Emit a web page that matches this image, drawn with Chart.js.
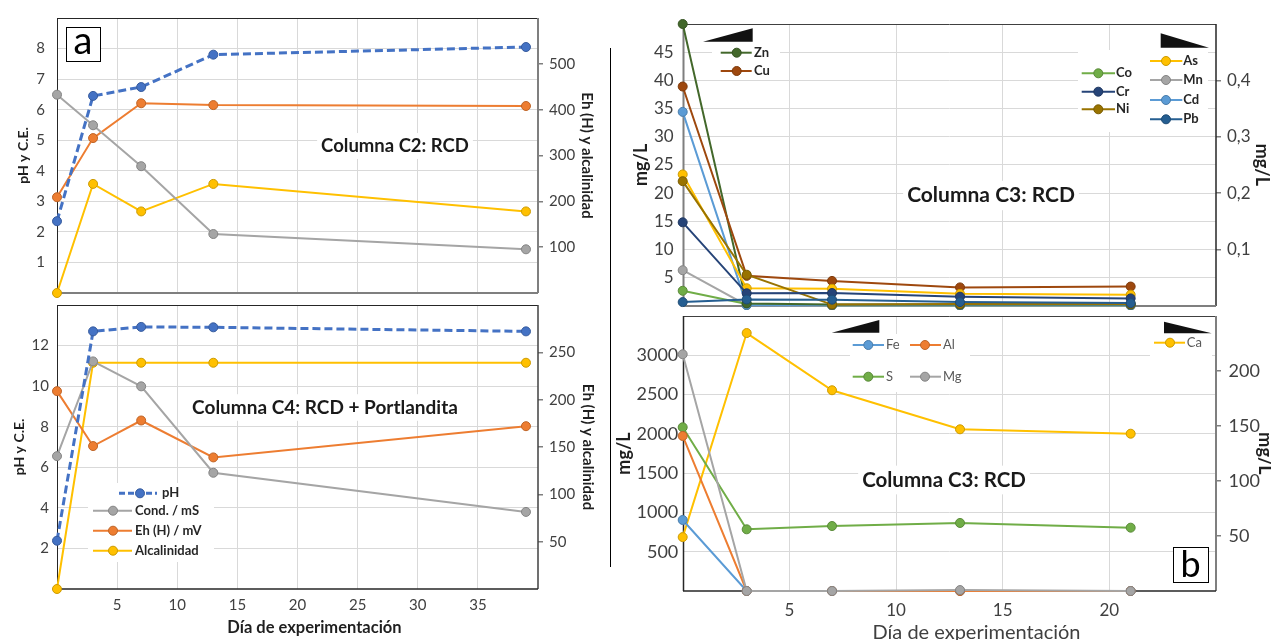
<!DOCTYPE html>
<html>
<head>
<meta charset="utf-8">
<script src="https://cdn.jsdelivr.net/npm/chart.js@4.4.1/dist/chart.umd.min.js"></script>
<style>
  body { margin: 0; background: #fff; width: 1271px; height: 640px; overflow: hidden; position: relative; }
  canvas { position: absolute; }
  #sep { position: absolute; left: 610px; top: 48px; width: 1px; height: 519px; background: #000; }
</style>
</head>
<body>
<canvas id="c2" width="610" height="300" style="left:0;top:0"></canvas>
<canvas id="c4" width="610" height="340" style="left:0;top:300px"></canvas>
<canvas id="m3" width="661" height="310" style="left:610px;top:0"></canvas>
<canvas id="b3" width="661" height="330" style="left:610px;top:310px"></canvas>
<div id="sep"></div>
<canvas id="ov" width="1271" height="640" style="left:0;top:0;pointer-events:none"></canvas>
<script>
// sampling days
const daysA = [0, 3, 7, 13, 39];
const daysB = [0, 3, 7, 13, 21];

// Columna C2: RCD
const c2Ph = [2.35, 6.45, 6.74, 7.8, 8.05];
const c2Cond = [6.49, 5.49, 4.15, 1.93, 1.43];
const c2Eh = [209, 338, 414, 410, 408];
const c2Alk = [0, 238, 178, 238, 178];

// Columna C4: RCD + Portlandita
const c4Ph = [2.38, 12.7, 12.92, 12.9, 12.7];
const c4Cond = [6.55, 11.22, 9.99, 5.73, 3.8];
const c4Eh = [209, 151, 178, 139, 172];
const c4Alk = [0, 239, 239, 239, 239];

// Columna C3: trace metals, left axis (mg/L)
const znVals = [50, 0.4, 0.2, 0.2, 0.2];
const cuVals = [38.9, 5.3, 4.4, 3.25, 3.4];
const coVals = [2.65, 0.3, 0.1, 0.1, 0.1];
const crVals = [14.8, 2.2, 2.25, 1.6, 1.3];
const niVals = [22.1, 5.5, 0.2, 0.3, 0.3];
// right axis (mg/L)
const asVals = [0.233, 0.031, 0.03, 0.021, 0.0195];
const mnVals = [0.063, 0.001, 0, 0, 0];
const cdVals = [0.344, 0.001, 0.001, 0.001, 0.001];
const pbVals = [0.0064, 0.011, 0.0107, 0.0064, 0.0046];

// Columna C3: major elements
const feVals = [904, 0, 0, 0, 0];
const alVals = [1973, 0, 0, 0, 0];
const sVals = [2084, 785, 827, 866, 806];
const mgVals = [3013, 0, 0, 12, 0];
const caVals = [49, 234.5, 182.5, 147, 143];

// tick values
const xTicksA = [5, 10, 15, 20, 25, 30, 35];
const xTicksB = [5, 10, 15, 20];
const c2LeftTicks = [1, 2, 3, 4, 5, 6, 7, 8];
const c2RightTicks = [100, 200, 300, 400, 500];
const c4LeftTicks = [2, 4, 6, 8, 10, 12];
const c4RightTicks = [50, 100, 150, 200, 250];
const m3LeftTicks = [5, 10, 15, 20, 25, 30, 35, 40, 45];
const m3RightTicks = [0.1, 0.2, 0.3, 0.4];
const b3LeftTicks = [500, 1000, 1500, 2000, 2500, 3000];
const b3RightTicks = [50, 100, 150, 200];

const FONT = 'Lato, "Open Sans", sans-serif';
const GRID = '#d9d9d9';
const TICK = '#404040';
const TITLE = '#1f1f1f';

const BLUE = '#4472C4', GRAY = '#A5A5A5', ORANGE = '#ED7D31', YELLOW = '#FFC000';

function shade(hex, f) {
  const n = parseInt(hex.slice(1), 16);
  const r = Math.round(((n >> 16) & 255) * f);
  const g = Math.round(((n >> 8) & 255) * f);
  const b = Math.round((n & 255) * f);
  return 'rgb(' + r + ',' + g + ',' + b + ')';
}

function line(label, xs, ys, color, axis, extra) {
  return Object.assign({
    label: label,
    data: xs.map((x, i) => ({ x: x, y: ys[i] })),
    yAxisID: axis,
    borderColor: color,
    backgroundColor: color,
    pointBackgroundColor: color,
    pointBorderColor: shade(color, 0.8),
    pointBorderWidth: 1,
    pointRadius: 4.5,
    borderWidth: 2,
    tension: 0,
    clip: false
  }, extra || {});
}

function tickList(values) {
  return s => { s.ticks = values.map(v => ({ value: v })); };
}

// fixed axis sizes, and no label overflow padding pushing the plot area around
function fixSize(prop, size) {
  return s => {
    s[prop] = size;
    s.paddingTop = 0; s.paddingBottom = 0; s.paddingLeft = 0; s.paddingRight = 0;
  };
}

function xAxis(max, ticks, height, showLabels, size, pad) {
  return {
    type: 'linear', min: 0, max: max,
    afterBuildTicks: tickList(ticks),
    afterFit: fixSize('height', height),
    grid: { color: GRID, drawTicks: false },
    border: { display: false },
    ticks: { display: showLabels, padding: pad, color: TICK, font: { family: FONT, size: size }, maxRotation: 0, autoSkip: false }
  };
}

function yAxis(side, max, ticks, width, size, pad, title, titleSize, titlePad, fmt) {
  const right = side === 'right';
  return {
    position: side, min: 0, max: max,
    afterBuildTicks: tickList(ticks),
    afterFit: fixSize('width', width),
    grid: right
      ? { drawOnChartArea: false, drawTicks: true, tickLength: 5, color: '#7f7f7f', lineWidth: 1.5 }
      : { color: GRID, drawTicks: false },
    border: { display: false },
    ticks: { padding: pad, color: TICK, font: { family: FONT, size: size }, autoSkip: false, callback: fmt || (v => v) },
    title: {
      display: true, text: title, color: TITLE,
      font: { family: FONT, size: titleSize, weight: 'bold', lineHeight: 1 },
      padding: { top: titlePad, bottom: 0 }
    }
  };
}

// plot-area border, side by side as in the figure
const FRAMES = {
  c2: { top: ['#262626', 1], left: ['#262626', 1], bottom: ['#7f7f7f', 2], right: ['#7f7f7f', 2] },
  c4: { top: ['#262626', 1], left: ['#262626', 1], bottom: ['#262626', 1.5], right: ['#404040', 1.5] },
  m3: { top: ['#404040', 1], left: ['#7f7f7f', 2], bottom: ['#7f7f7f', 2], right: ['#262626', 1.5] },
  b3: { top: ['#404040', 1], left: ['#262626', 1.5], bottom: ['#262626', 1.5], right: ['#7f7f7f', 2] }
};

const framePlugin = {
  id: 'frame',
  beforeDatasetsDraw(chart) {
    const f = FRAMES[chart.canvas.id];
    const a = chart.chartArea;
    const c = chart.ctx;
    const L = Math.round(a.left), R = Math.round(a.right), T = Math.round(a.top), B = Math.round(a.bottom);
    function seg(x1, y1, x2, y2, s) {
      c.beginPath();
      c.strokeStyle = s[0];
      c.lineWidth = s[1];
      c.moveTo(x1, y1);
      c.lineTo(x2, y2);
      c.stroke();
    }
    c.save();
    seg(L, T + 0.5, R, T + 0.5, f.top);
    seg(L + 0.5, T, L + 0.5, B, f.left);
    seg(R, T, R, B, f.right);
    seg(L, B, R, B, f.bottom);
    c.restore();
  }
};

function panel(id, top, datasets, scales) {
  new Chart(document.getElementById(id), {
    type: 'line',
    data: { datasets: datasets },
    options: {
      responsive: false,
      animation: false,
      events: [],
      layout: { padding: { top: top, left: 0, right: 0, bottom: 0 }, autoPadding: false },
      plugins: { legend: { display: false }, tooltip: { enabled: false } },
      scales: scales
    },
    plugins: [framePlugin]
  });
}

const dashed = { borderDash: [8, 4], borderWidth: 3 };

// Columna C2
panel('c2', 18, [
  line('pH', daysA, c2Ph, BLUE, 'y', dashed),
  line('Cond. / mS', daysA, c2Cond, GRAY, 'y'),
  line('Eh (H) / mV', daysA, c2Eh, ORANGE, 'y2'),
  line('Alcalinidad', daysA, c2Alk, YELLOW, 'y2')
], {
  x: xAxis(40, xTicksA, 7, false, 15, 7),
  y: yAxis('left', 9, c2LeftTicks, 57, 15, 12, 'pH y C.E.', 14, 16.3),
  y2: yAxis('right', 600, c2RightTicks, 72, 15, 6, 'Eh (H) y alcalinidad', 15, 15.5)
});

// Columna C4
panel('c4', 5, [
  line('pH', daysA, c4Ph, BLUE, 'y', dashed),
  line('Cond. / mS', daysA, c4Cond, GRAY, 'y'),
  line('Eh (H) / mV', daysA, c4Eh, ORANGE, 'y2'),
  line('Alcalinidad', daysA, c4Alk, YELLOW, 'y2')
], {
  x: xAxis(40, xTicksA, 51, true, 15, 7),
  y: yAxis('left', 14, c4LeftTicks, 57, 15, 8, 'pH y C.E.', 14, 12.2),
  y2: yAxis('right', 300, c4RightTicks, 72, 15, 6, 'Eh (H) y alcalinidad', 15, 14.5)
});

// Columna C3, trace metals
const comma = v => v.toFixed(1).replace('.', ',');
panel('m3', 24, [
  line('Pb', daysB, pbVals, '#255E91', 'y2'),
  line('Cr', daysB, crVals, '#264478', 'y'),
  line('Ni', daysB, niVals, '#997300', 'y'),
  line('As', daysB, asVals, YELLOW, 'y2'),
  line('Cu', daysB, cuVals, '#9E480E', 'y'),
  line('Zn', daysB, znVals, '#43682B', 'y'),
  line('Cd', daysB, cdVals, '#5B9BD5', 'y2'),
  line('Co', daysB, coVals, '#70AD47', 'y'),
  line('Mn', daysB, mnVals, GRAY, 'y2')
], {
  x: xAxis(25, xTicksB, 4.3, false, 17, 9),
  y: yAxis('left', 50, m3LeftTicks, 72.7, 17, 9, 'mg/L', 18, 21.8),
  y2: yAxis('right', 0.5, m3RightTicks, 55, 17, 6, 'mg/L', 18, 0.3, comma)
});

// Columna C3, major elements (first dataset ends up on top)
panel('b3', 6, [
  line('Mg', daysB, mgVals, GRAY, 'y'),
  line('Al', daysB, alVals, ORANGE, 'y'),
  line('Fe', daysB, feVals, '#5B9BD5', 'y'),
  line('S', daysB, sVals, '#70AD47', 'y'),
  line('Ca', daysB, caVals, YELLOW, 'y2')
], {
  x: xAxis(25, xTicksB, 49, true, 17, 9),
  y: yAxis('left', 3500, b3LeftTicks, 72.7, 18, 4.4, 'mg/L', 18, 5.2),
  y2: yAxis('right', 250, b3RightTicks, 55, 18, 7.5, 'mg/L', 18, -3)
});

// annotations, legends and labels on top
const ov = document.getElementById('ov').getContext('2d');

function whiteBox(x1, y1, x2, y2) {
  ov.fillStyle = '#fff';
  ov.fillRect(x1, y1, x2 - x1, y2 - y1);
}

function text(str, x, y, size, weight, color, align, baseline) {
  ov.font = weight + ' ' + size + 'px ' + FONT;
  ov.fillStyle = color;
  ov.textAlign = align || 'left';
  ov.textBaseline = baseline || 'middle';
  ov.fillText(str, x, y);
}

function note(str, cx, cy, size) {
  ov.font = 'bold ' + size + 'px ' + FONT;
  const w = ov.measureText(str).width;
  whiteBox(cx - w / 2 - 4, cy - size * 0.7, cx + w / 2 + 4, cy + size * 0.7);
  text(str, cx, cy, size, 'bold', '#1a1a1a', 'center');
}

function letterBox(ch, x1, y1, x2, y2, size, baseY) {
  whiteBox(x1, y1, x2, y2);
  ov.strokeStyle = '#000';
  ov.lineWidth = 1;
  ov.strokeRect(x1 + 0.5, y1 + 0.5, x2 - x1, y2 - y1);
  text(ch, (x1 + x2) / 2, baseY, size, 'normal', '#000', 'center', 'alphabetic');
}

function wedge(pts) {
  ov.fillStyle = '#111';
  ov.beginPath();
  ov.moveTo(pts[0], pts[1]);
  ov.lineTo(pts[2], pts[3]);
  ov.lineTo(pts[4], pts[5]);
  ov.closePath();
  ov.fill();
}

function key(x1, x2, mx, y, tx, color, label, size, weight, tcolor, dash, lw) {
  ov.save();
  ov.strokeStyle = color;
  ov.lineWidth = lw || 2;
  ov.setLineDash(dash || []);
  ov.beginPath();
  ov.moveTo(x1, y);
  ov.lineTo(x2, y);
  ov.stroke();
  ov.restore();
  ov.beginPath();
  ov.arc(mx, y, 4.5, 0, Math.PI * 2);
  ov.fillStyle = color;
  ov.fill();
  ov.strokeStyle = shade(color, 0.8);
  ov.lineWidth = 1;
  ov.stroke();
  text(label, tx, y, size, weight, tcolor);
}

// left side
letterBox('a', 66, 27, 100, 61, 38, 53.5);
note('Columna C2: RCD', 395, 146, 18.5);
note('Columna C4: RCD + Portlandita', 325, 407.5, 19);
whiteBox(88, 483, 214, 562);
key(119, 157, 140, 493.3, 162, BLUE, 'pH', 13, 'bold', '#262626', [6, 3], 3);
key(93, 132, 113, 510.7, 135, GRAY, 'Cond. / mS', 13, 'bold', '#262626');
key(93, 132, 113, 530.7, 135, ORANGE, 'Eh (H) / mV', 13, 'bold', '#262626');
key(93, 132, 113, 550.7, 135, YELLOW, 'Alcalinidad', 13, 'bold', '#262626');
text('Día de experimentación', 314.5, 628, 16.5, 'bold', '#1f1f1f', 'center');

// top right
note('Columna C3: RCD', 991, 195.5, 21);
wedge([703, 41.7, 752.7, 28.3, 752.7, 41.7]);
whiteBox(712, 43, 780, 80);
key(720.7, 751.7, 736.7, 52.7, 754, '#43682B', 'Zn', 13, 'bold', '#262626');
key(720.7, 751.7, 736.7, 71, 754, '#9E480E', 'Cu', 13, 'bold', '#262626');
wedge([1160.7, 33.3, 1160.7, 47.7, 1209, 47.7]);
whiteBox(1078, 50, 1208, 132);
key(1081.7, 1115, 1098.3, 73.3, 1116, '#70AD47', 'Co', 13, 'bold', '#262626');
key(1081.7, 1115, 1098.3, 91.7, 1116, '#264478', 'Cr', 13, 'bold', '#262626');
key(1081.7, 1115, 1098.3, 109.3, 1116, '#997300', 'Ni', 13, 'bold', '#262626');
key(1150, 1182.3, 1166, 61, 1183.3, YELLOW, 'As', 13, 'bold', '#262626');
key(1150, 1182.3, 1166, 80, 1183.3, GRAY, 'Mn', 13, 'bold', '#262626');
key(1150, 1182.3, 1166, 100, 1183.3, '#5B9BD5', 'Cd', 13, 'bold', '#262626');
key(1150, 1182.3, 1166, 119.3, 1183.3, '#255E91', 'Pb', 13, 'bold', '#262626');

// bottom right
note('Columna C3: RCD', 944, 480, 20.5);
wedge([831.7, 332.7, 879.3, 320, 879.3, 332.7]);
whiteBox(850, 334, 970, 392);
key(852.7, 884, 868.3, 345, 886, '#5B9BD5', 'Fe', 13, 'normal', '#595959');
key(910, 941, 925, 345, 943, ORANGE, 'Al', 13, 'normal', '#595959');
key(852.7, 884, 868.3, 376.7, 886, '#70AD47', 'S', 13, 'normal', '#595959');
key(910, 941, 925, 376.7, 943, GRAY, 'Mg', 13, 'normal', '#595959');
wedge([1164, 321.7, 1164, 333.3, 1211.7, 333.3]);
whiteBox(1150, 335, 1212, 357);
key(1154, 1185, 1170, 342.7, 1186.7, YELLOW, 'Ca', 13, 'normal', '#595959');
letterBox('b', 1173, 547, 1208, 582, 36, 576.7);
text('Día de experimentación', 976.5, 632.7, 20, 'normal', '#404040', 'center');
</script>
</body>
</html>
